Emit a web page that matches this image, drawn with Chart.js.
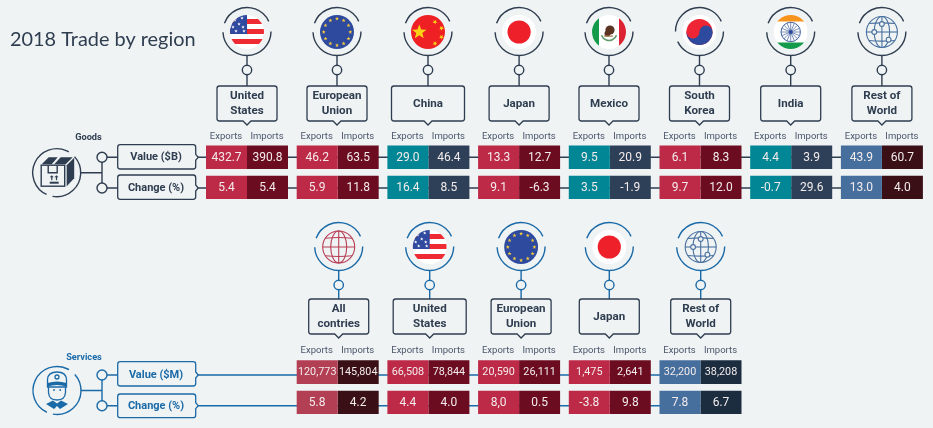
<!DOCTYPE html>
<html><head><meta charset="utf-8">
<style>html,body{margin:0;padding:0;background:#eff3f4}canvas{display:block}</style>
<script src="https://cdn.jsdelivr.net/npm/chart.js@4"></script>
</head><body><canvas id="c" width="933" height="428"></canvas>
<script>
const titleText = '2018 Trade by region';
const goodsRegions = [['United','States'],['European','Union'],['China'],['Japan'],['Mexico'],['South','Korea'],['India'],['Rest of','World']];
const servicesRegions = [['All','contries'],['United','States'],['European','Union'],['Japan'],['Rest of','World']];
const goodsFlags = ['us','eu','cn','jp','mx','kr','in','net'];
const servicesFlags = ['globe','us','eu','jp','net'];

const goodsValueExports = [432.7,46.2,29.0,13.3,9.5,6.1,4.4,43.9];
const goodsValueImports = [390.8,63.5,46.4,12.7,20.9,8.3,3.9,60.7];
const goodsChangeExports = [5.4,5.9,16.4,9.1,3.5,9.7,-0.7,13.0];
const goodsChangeImports = [5.4,11.8,8.5,-6.3,-1.9,12.0,29.6,4.0];
const servicesValueExports = [120773,66508,20590,1475,32200];
const servicesValueImports = [145804,78844,26111,2641,38208];
const servicesChangeExports = [5.8,4.4,8.0,-3.8,7.8];
const servicesChangeImports = [4.2,4.0,0.5,9.8,6.7];
const servicesChangeExportsText = ['5.8','4.4','8,0','-3.8','7.8'];

const C = {
  bg:'#eff3f4', ink:'#2f3d50', blue:'#1b6aa8', head:'#4a566b', cellText:'#f3ecec',
  red:'#bd2a47', wine:'#6b0c20', teal:'#008695', slate:'#2e4057', steel:'#476f9e', maroon:'#3a1016',
  rose:'#b33f55', navy:'#1d2d40'
};
const goodsExportColors = [C.red,C.red,C.teal,C.red,C.teal,C.red,C.teal,C.steel];
const goodsImportColors = [C.wine,C.wine,C.slate,C.wine,C.slate,C.wine,C.slate,C.maroon];
const servicesExportColors = [C.rose,C.red,C.red,C.red,C.steel];
const servicesImportColors = [C.maroon,C.wine,C.wine,C.wine,C.navy];

const rows = {gv:[145.5,169],gc:[175.7,199],sv:[360.3,384],sc:[390.7,414]};
const SLOT = 1; // services begin in the second column
const pad = a => Array(SLOT).fill(null).concat(a);
const f1 = v => v.toFixed(1);
const fk = v => v.toLocaleString('en-US');

function ds(label,stack,values,texts,colors,row,size){
  return {label,stack,row,data:values.map(()=>rows[row]),texts,backgroundColor:colors,size,borderWidth:0};
}
const datasets = [
  ds('Goods value exports','Exports',goodsValueExports,goodsValueExports.map(f1),goodsExportColors,'gv',12),
  ds('Goods value imports','Imports',goodsValueImports,goodsValueImports.map(f1),goodsImportColors,'gv',12),
  ds('Goods change exports','Exports',goodsChangeExports,goodsChangeExports.map(f1),goodsExportColors,'gc',12),
  ds('Goods change imports','Imports',goodsChangeImports,goodsChangeImports.map(f1),goodsImportColors,'gc',12),
  ds('Services value exports','Exports',servicesValueExports,servicesValueExports.map(fk),servicesExportColors,'sv',10.8),
  ds('Services value imports','Imports',servicesValueImports,servicesValueImports.map(fk),servicesImportColors,'sv',10.8),
  ds('Services change exports','Exports',servicesChangeExports,servicesChangeExportsText,servicesExportColors,'sc',12),
  ds('Services change imports','Imports',servicesChangeImports,servicesChangeImports.map(f1),servicesImportColors,'sc',12)
];
datasets.slice(4).forEach(d=>{
  d.data = pad(d.data); d.texts = pad(d.texts); d.backgroundColor = pad(d.backgroundColor);
});

function circle(g,x,y,r){g.beginPath();g.arc(x,y,r,0,Math.PI*2);}
function star(g,x,y,r,rot){
  g.beginPath();
  for(let i=0;i<10;i++){
    const a=(rot||0)-Math.PI/2+i*Math.PI/5, q=i%2?r*0.42:r;
    g.lineTo(x+Math.cos(a)*q,y+Math.sin(a)*q);
  }
  g.closePath();g.fill();
}
function ring(g,x,y,col,gaps){
  g.strokeStyle=col;g.lineWidth=1.4;
  const d=Math.PI/180;
  gaps.forEach(a=>{g.beginPath();g.arc(x,y,24,a[0]*d,a[1]*d);g.stroke();});
}
const RING_STD=[[200,335],[0,178]];
const RING_KR=[[180,335],[0,155]];
const RING_ICON=[[115,300],[318,460]];

const flags = {
  us(g,x,y){
    g.fillStyle='#fff';g.fillRect(x-17,y-17,34,34);
    g.fillStyle='#ee2a32';
    [4,14,24].forEach(o=>g.fillRect(x-17,y-17+o,34,5));
    g.fillStyle='#2f4a9e';g.fillRect(x-17,y-17,17,19);
    g.fillStyle='#fff';
    [[-12,-12],[-5,-14],[-8,-8],[-14,-5],[-4,-5],[-11,-1],[-3,-1]].forEach(p=>star(g,x+p[0],y+p[1],1.8));
  },
  eu(g,x,y){
    g.fillStyle='#2e4a9e';g.fillRect(x-17,y-17,34,34);
    g.fillStyle='#f5c93e';
    for(let i=0;i<12;i++){const a=i*Math.PI/6;star(g,x+Math.sin(a)*13.3,y-Math.cos(a)*13.3,2.1);}
  },
  cn(g,x,y){
    g.fillStyle='#ee2024';g.fillRect(x-17,y-17,34,34);
    g.fillStyle='#fbd116';
    star(g,x-8.7,y,7.6);
    [[7,-10],[13.5,-3.8],[13.5,5],[7,11.5]].forEach(p=>star(g,x+p[0],y+p[1],2.6,0.5));
  },
  jp(g,x,y){
    g.fillStyle='#fff';g.fillRect(x-17,y-17,34,34);
    g.fillStyle='#ee2029';circle(g,x,y,11.6);g.fill();
  },
  mx(g,x,y){
    g.fillStyle='#fff';g.fillRect(x-17,y-17,34,34);
    g.fillStyle='#149a4b';g.fillRect(x-17,y-17,7,34);
    g.fillStyle='#dd2233';g.fillRect(x+10,y-17,7,34);
    g.strokeStyle='#5f9a6a';g.lineWidth=1.6;g.beginPath();g.arc(x,y+0.5,8,0.35,Math.PI-0.35);g.stroke();
    g.fillStyle='#5b3422';circle(g,x+1,y-2,4.6);g.fill();circle(g,x-1.5,y+1.5,3);g.fill();
    g.fillStyle='#a87a4c';g.fillRect(x-5,y+3.5,9,1.2);
  },
  kr(g,x,y){
    g.fillStyle='#fff';g.fillRect(x-17,y-17,34,34);
    const r=13;
    g.fillStyle='#ee2534';circle(g,x,y,r);g.fill();
    g.fillStyle='#2e4a9e';g.beginPath();g.arc(x,y,r,0,Math.PI);g.closePath();g.fill();
    g.fillStyle='#ee2534';circle(g,x-r/2,y,r/2);g.fill();
    g.fillStyle='#2e4a9e';circle(g,x+r/2,y,r/2);g.fill();
  },
  in(g,x,y){
    g.fillStyle='#fff';g.fillRect(x-17,y-17,34,34);
    g.fillStyle='#f7941d';g.fillRect(x-17,y-17,34,6.5);
    g.fillStyle='#149a4b';g.fillRect(x-17,y+10.5,34,6.5);
    g.strokeStyle='#3f5f9e';g.lineWidth=1;circle(g,x,y,9.7);g.stroke();
    g.lineWidth=0.7;
    for(let i=0;i<16;i++){const a=i*Math.PI/8;g.beginPath();g.moveTo(x,y);g.lineTo(x+Math.cos(a)*9.5,y+Math.sin(a)*9.5);g.stroke();}
    g.fillStyle='#2e4a9e';circle(g,x,y,2);g.fill();
  }
};
function globe(g,x,y,r,col,nodes){
  g.strokeStyle=col;g.lineWidth=1.1;
  circle(g,x,y,r);g.stroke();
  g.beginPath();g.ellipse(x,y,r*0.5,r,0,0,Math.PI*2);g.stroke();
  g.beginPath();g.moveTo(x,y-r);g.lineTo(x,y+r);g.stroke();
  g.beginPath();g.moveTo(x-r,y);g.lineTo(x+r,y);g.stroke();
  [-0.55,0.55].forEach(k=>{
    const h=Math.sqrt(1-k*k)*r;
    g.beginPath();g.moveTo(x-h,y+k*r);g.quadraticCurveTo(x,y+k*r*1.15,x+h,y+k*r);g.stroke();
  });
  if(nodes){
    g.fillStyle=C.bg;
    [[0,-8],[-7.6,0],[6.7,7.7]].forEach(p=>{circle(g,x+p[0],y+p[1],2.4);g.fill();g.stroke();});
  }
}
function drawFlag(g,name,x,y){
  if(name==='net'){globe(g,x,y,15.5,'#4a719f',true);return;}
  if(name==='globe'){globe(g,x,y,16,'#b93f56',false);return;}
  g.save();circle(g,x,y,17);g.clip();flags[name](g,x,y);g.restore();
}
function callout(g,x,top,bot,w,col){
  const l=x-w/2,rr=x+w/2,r=2.5;
  g.beginPath();
  g.moveTo(l+r,top);g.lineTo(rr-r,top);g.quadraticCurveTo(rr,top,rr,top+r);
  g.lineTo(rr,bot-r);g.quadraticCurveTo(rr,bot,rr-r,bot);
  g.lineTo(x+4,bot);g.lineTo(x,bot+4);g.lineTo(x-4,bot);
  g.lineTo(l+r,bot);g.quadraticCurveTo(l,bot,l,bot-r);
  g.lineTo(l,top+r);g.quadraticCurveTo(l,top,l+r,top);g.closePath();
  g.fillStyle=C.bg;g.fill();g.strokeStyle=col;g.lineWidth=1.3;g.stroke();
}
function tag(g,l,rr,top,bot,mid,col){
  const r=2.5;
  g.beginPath();
  g.moveTo(l+r,top);g.lineTo(rr-r,top);g.quadraticCurveTo(rr,top,rr,top+r);
  g.lineTo(rr,mid-3);g.lineTo(rr+2.5,mid);g.lineTo(rr,mid+3);
  g.lineTo(rr,bot-r);g.quadraticCurveTo(rr,bot,rr-r,bot);
  g.lineTo(l+r,bot);g.quadraticCurveTo(l,bot,l,bot-r);
  g.lineTo(l,top+r);g.quadraticCurveTo(l,top,l+r,top);g.closePath();
  g.fillStyle=C.bg;g.fill();g.strokeStyle=col;g.lineWidth=1.3;g.stroke();
}
function text(g,s,x,y,font,col,align){
  g.font=font;g.fillStyle=col;g.textAlign=align||'center';g.textBaseline='middle';g.fillText(s,x,y);
}
function column(g,lines,x,o,w,flag,col){
  g.strokeStyle=col;g.lineWidth=1.4;
  g.beginPath();g.moveTo(x,o.ring+24);g.lineTo(x,o.box);g.stroke();
  circle(g,x,o.dot,4.7);g.fillStyle=C.bg;g.fill();g.stroke();
  ring(g,x,o.ring,col,flag==='kr'?RING_KR:RING_STD);
  drawFlag(g,flag,x,o.ring+0.5);
  callout(g,x,o.box,o.box+35,w,C.ink);
  const cy=o.box+18;
  const font='bold 11.6px Roboto';
  if(lines.length===1) text(g,lines[0],x,cy,font,C.ink);
  else{text(g,lines[0],x,cy-7.5,font,C.ink);text(g,lines[1],x,cy+7.5,font,C.ink);}
}
function boxIcon(g,x,y){
  const d=C.ink;
  ring(g,x,y,d,RING_ICON);
  g.fillStyle=d;g.strokeStyle=d;g.lineWidth=1.4;
  const P=(pts)=>{g.beginPath();pts.forEach(p=>g.lineTo(x+p[0],y+p[1]));g.closePath();g.fill();};
  P([[-15,-8.5],[-8,-15.5],[1,-15.5],[-5,-8.5]]);
  P([[-2.5,-8.5],[4,-15.5],[16,-15.5],[9,-8.5]]);
  P([[10,-7.5],[17.5,-15],[17.5,5.5],[10,13.5]]);
  g.strokeRect(x-15.5,y-7.5,23.5,21);
  g.beginPath();g.moveTo(x-8.5,y-7.5);g.lineTo(x-8.5,y);g.lineTo(x+0.5,y);g.lineTo(x+0.5,y-7.5);g.stroke();
  g.fillRect(x-7,y+9,9,2);
  g.fillRect(x-5.5,y+4,1.2,3.5);g.fillRect(x-0.8,y+4,1.2,3.5);
  P([[-7,4.5],[-4.9,2.5],[-3,4.5]]);P([[-2.3,4.5],[-0.2,2.5],[1.8,4.5]]);
}
function workerIcon(g,x,y){
  const b=C.blue;
  ring(g,x,y,b,RING_ICON);
  g.strokeStyle=b;g.fillStyle=b;g.lineWidth=1.3;
  g.beginPath();g.moveTo(x-9.5,y-3.5);g.lineTo(x-9.5,y-11);g.quadraticCurveTo(x-9,y-18.5,x,y-18.5);g.quadraticCurveTo(x+9,y-18.5,x+9.5,y-11);g.lineTo(x+9.5,y-3.5);g.closePath();
  g.stroke();
  g.beginPath();g.moveTo(x-9.5,y-7.5);g.quadraticCurveTo(x,y-10.5,x+9.5,y-7.5);g.lineTo(x+9.5,y-4);g.quadraticCurveTo(x,y-7,x-9.5,y-4);g.closePath();g.fill();
  circle(g,x,y-13.5,2);g.stroke();
  g.beginPath();g.moveTo(x-8.5,y-4);g.lineTo(x-8.5,y+2);g.quadraticCurveTo(x-8,y+9.5,x,y+9.5);g.quadraticCurveTo(x+8,y+9.5,x+8.5,y+2);g.lineTo(x+8.5,y-4);g.stroke();
  circle(g,x-3,y-0.5,0.9);g.fill();circle(g,x+3.2,y-0.5,0.9);g.fill();
  g.beginPath();g.moveTo(x-4,y+10);g.lineTo(x,y+13);g.lineTo(x+4,y+10);g.lineTo(x+11,y+13.5);g.lineTo(x+3,y+18.5);g.lineTo(x,y+15.5);g.lineTo(x-3,y+18.5);g.lineTo(x-11,y+13.5);g.closePath();g.fill();
}
function sideBlock(g,o,col,drawIcon){
  g.strokeStyle=col;g.lineWidth=1.4;
  g.beginPath();g.moveTo(o.ix+24,o.iy);g.lineTo(102,o.iy);
  g.moveTo(102,o.y1);g.lineTo(102,o.y2);
  g.moveTo(102,o.y1);g.lineTo(118,o.y1);
  g.moveTo(102,o.y2);g.lineTo(118,o.y2);g.stroke();
  [o.y1,o.y2].forEach(v=>{circle(g,102,v,5);g.fillStyle=C.bg;g.fill();g.stroke();});
  drawIcon(g,o.ix,o.iy);
  tag(g,117.7,195.7,o.b1[0],o.b1[1],o.y1,o.boxCol);
  tag(g,117.7,195.7,o.b2[0],o.b2[1],o.y2,o.boxCol);
  text(g,o.t1,156,o.y1+0.2,'bold 11px Roboto',col);
  text(g,o.t2,156,o.y2+0.7,'bold 11px Roboto',col);
  text(g,o.name,o.nx,o.ny,'bold 9.2px Roboto',col);
}
const goodsNudge=[0,-0.7,-0.4,0,-0.8,-1,-0.5,0];
const servicesNudge=[1,1.3,2,-0.5,0.2];
const goodsBox=[60,60,73,60,60,60,60,60];
const servicesBox=[60,73,60,60,60];
const GOODS={ring:31.5,dot:70,box:86,head:137};
const SERV={ring:246.5,dot:285,box:299,head:351};

const infographic={
  id:'infographic',
  beforeDatasetsDraw(ch){
    const g=ch.ctx,xs=ch.scales.x;
    g.save();
    g.fillStyle=C.bg;g.fillRect(0,0,933,428);
    g.lineWidth=1.4;
    g.strokeStyle=C.ink;
    [157.3,188].forEach(y=>{g.beginPath();g.moveTo(196,y);g.lineTo(xs.getPixelForValue(7),y);g.stroke();});
    g.strokeStyle=C.blue;
    [375,405.7].forEach(y=>{g.beginPath();g.moveTo(196,y);g.lineTo(xs.getPixelForValue(5),y);g.stroke();});
    g.restore();
  },
  afterDatasetsDraw(ch){
    const g=ch.ctx,xs=ch.scales.x;
    g.save();
    ch.data.datasets.forEach((d,i)=>{
      const r=rows[d.row];
      ch.getDatasetMeta(i).data.forEach((el,j)=>{
        const t=d.texts[j];
        if(t==null) return;
        text(g,t,el.x,(r[0]+r[1])/2+0.5,d.size+'px Roboto',C.cellText);
        const head=d.row==='gv'?GOODS.head:(d.row==='sv'?SERV.head:null);
        if(head) text(g,d.stack,el.x-0.5,head,'9.5px Roboto',C.head);
      });
    });
    text(g,titleText,10,40,'19.9px Lato',C.ink,'left');
    goodsRegions.forEach((n,i)=>column(g,n,xs.getPixelForValue(i)+goodsNudge[i],GOODS,goodsBox[i],goodsFlags[i],C.ink));
    servicesRegions.forEach((n,i)=>column(g,n,xs.getPixelForValue(i+SLOT)+servicesNudge[i],SERV,servicesBox[i],servicesFlags[i],C.blue));
    sideBlock(g,{ix:56.7,iy:172.7,y1:157.3,y2:188,b1:[144.7,169],b2:[175,199.3],t1:'Value ($B)',t2:'Change (%)',name:'Goods',nx:88.5,ny:138,boxCol:C.ink},C.ink,boxIcon);
    sideBlock(g,{ix:57,iy:390.5,y1:375,y2:405.7,b1:[361.7,386],b2:[394,417.7],t1:'Value ($M)',t2:'Change (%)',name:'Services',nx:84,ny:357.7,boxCol:C.blue},C.blue,workerIcon);
    g.restore();
  }
};

new Chart(document.getElementById('c'),{
  type:'bar',
  data:{labels:goodsRegions.map(r=>r.join(' ')),datasets},
  plugins:[infographic],
  options:{
    responsive:false,animation:false,events:[],
    layout:{padding:{left:201.65,right:5.75,top:0,bottom:0}},
    categoryPercentage:82/90.7,barPercentage:1,
    plugins:{legend:{display:false},tooltip:{enabled:false},title:{display:false}},
    scales:{
      x:{type:'category',display:false,offset:true},
      y:{type:'linear',display:false,stacked:false,min:0,max:428,reverse:true}
    }
  }
});
</script></body></html>
